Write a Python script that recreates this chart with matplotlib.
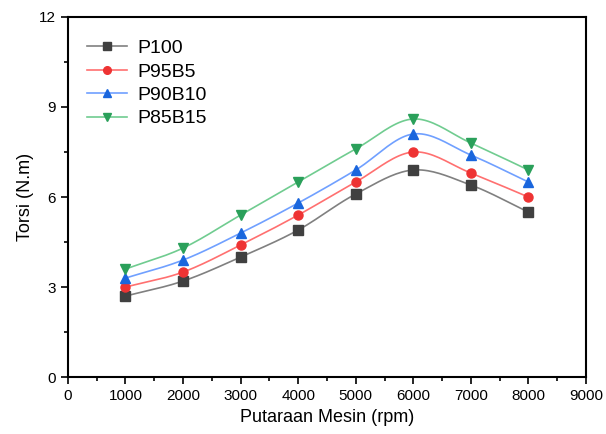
import matplotlib
matplotlib.use('Agg')
import matplotlib.pyplot as plt
import numpy as np

plt.rcParams['font.family'] = ['Liberation Sans', 'DejaVu Sans']

rpm = [1000, 2000, 3000, 4000, 5000, 6000, 7000, 8000]
p100   = [2.7, 3.2, 4.0, 4.9, 6.1, 6.9, 6.4, 5.5]
p95b5  = [3.0, 3.5, 4.4, 5.4, 6.5, 7.5, 6.8, 6.0]
p90b10 = [3.3, 3.9, 4.8, 5.8, 6.9, 8.1, 7.4, 6.5]
p85b15 = [3.6, 4.3, 5.4, 6.5, 7.6, 8.6, 7.8, 6.9]

labels = ['P100', 'P95B5', 'P90B10', 'P85B15']
markers = ['s', 'o', '^', 'v']
line_colors = ['#808080', '#ff7070', '#70a0ff', '#70cc90']
mark_colors = ['#404040', '#ee3333', '#1a66dd', '#2aa05a']


#__________________________________________________________
def smooth(x, y, n=20):
    # catmull-rom curve through the points, only for drawing the line
    x = np.asarray(x, float)
    y = np.asarray(y, float)
    px = np.concatenate([[2*x[0]-x[1]], x, [2*x[-1]-x[-2]]])
    py = np.concatenate([[2*y[0]-y[1]], y, [2*y[-1]-y[-2]]])
    xs, ys = [], []
    t = np.linspace(0, 1, n, endpoint=False)
    for i in range(1, len(px)-2):
        for p, out in ((px, xs), (py, ys)):
            p0, p1, p2, p3 = p[i-1], p[i], p[i+1], p[i+2]
            out.extend(0.5*((2*p1) + (-p0+p2)*t + (2*p0-5*p1+4*p2-p3)*t**2
                            + (-p0+3*p1-3*p2+p3)*t**3))
    xs.append(x[-1])
    ys.append(y[-1])
    return xs, ys


fig = plt.figure(figsize=(6.06, 4.34), dpi=100)
ax = fig.add_axes([0.112, 0.131, 0.855, 0.830])

for y, lab, m, lc, mc in zip([p100, p95b5, p90b10, p85b15], labels, markers, line_colors, mark_colors):
    sx, sy = smooth(rpm, y)
    ax.plot(sx, sy, color=lc, linewidth=1.2)
    ax.plot(rpm, y, linestyle='none', marker=m, color=mc, markersize=6.5)
    ax.plot([], [], color=lc, linewidth=1.2, marker=m, markerfacecolor=mc,
            markeredgecolor=mc, markersize=5.5, label=lab)

ax.set_xlim(0, 9000)
ax.set_ylim(0, 12)
ax.set_xticks(range(0, 9001, 1000))
ax.set_xticks(range(500, 9000, 1000), minor=True)
ax.set_yticks([0, 3, 6, 9, 12])
ax.set_yticks([1.5, 4.5, 7.5, 10.5], minor=True)
ax.tick_params(which='major', direction='out', length=5, width=1.2, labelsize=11)
ax.tick_params(which='minor', direction='out', length=3, width=1.2)
for s in ax.spines.values():
    s.set_linewidth(1.5)

ax.set_xlabel('Putaraan Mesin (rpm)', fontsize=13)
ax.set_ylabel('Torsi (N.m)', fontsize=13)
ax.legend(loc='upper left', bbox_to_anchor=(0.01, 0.975), frameon=False,
          fontsize=14, handlelength=2.1, handletextpad=0.5, labelspacing=0.3,
          borderaxespad=0.3)

plt.savefig('out.png', dpi=100)
